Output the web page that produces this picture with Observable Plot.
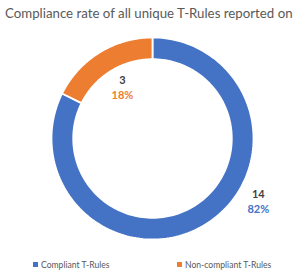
<!DOCTYPE html>
<html>
<head>
<meta charset="utf-8">
<script src="https://cdn.jsdelivr.net/npm/d3@7"></script>
<script src="https://cdn.jsdelivr.net/npm/@observablehq/plot@0.6"></script>
<style>
  html, body { margin: 0; padding: 0; background: #fff; }
  #wrap { width: 303px; height: 278px; position: relative; overflow: hidden; font-family: Lato, "Open Sans", sans-serif; }
  #title { height: 26px; line-height: 26px; font-size: 13px; color: #595959; padding-left: 5px; white-space: nowrap; }
  #title span { display: inline-block; }
  #legend { position: relative; height: 22px; font-size: 8.6px; color: #595959; }
  .item { position: absolute; top: 0; line-height: 18px; white-space: nowrap; }
  .sw { display: inline-block; width: 5px; height: 5px; margin-right: 3px; vertical-align: 1px; }
</style>
</head>
<body>
<div id="wrap">
  <div id="title"><span id="titletext"></span></div>
  <div id="plot"></div>
  <div id="legend"></div>
</div>
<script>
const title = "Compliance rate of all unique T-Rules reported on";
const categories = ["Compliant T-Rules", "Non-compliant T-Rules"];
const counts = [14, 3];
const percentLabels = ["82%", "18%"];
const colors = ["#4472C4", "#ED7D31"];

// layout
const W = 303, H = 230, R = 101, CX = 152, CY = 112, INNER = 0.785;
const legendLeft = [33, 177];
const labelRadius = [1.2, 0.585];
const labelDx = [42, 1];
const labelDy = [-40, 0];
const titleWidth = 288;

const tt = document.getElementById("titletext");
tt.textContent = title;
const w0 = tt.getBoundingClientRect().width;
if (w0 > 0) document.getElementById("title").style.fontSize = (13 * titleWidth / w0).toFixed(2) + "px";

const arcs = d3.pie().sort(null).value(d => d)(counts);
const ring = [];
arcs.forEach((a, i) => {
  const n = 160;
  for (let j = 0; j <= n; j++) {
    const t = a.startAngle + (a.endAngle - a.startAngle) * j / n;
    ring.push({cat: categories[i], x: Math.sin(t), y: Math.cos(t)});
  }
  for (let j = n; j >= 0; j--) {
    const t = a.startAngle + (a.endAngle - a.startAngle) * j / n;
    ring.push({cat: categories[i], x: INNER * Math.sin(t), y: INNER * Math.cos(t)});
  }
});

const labels = arcs.map((a, i) => {
  const m = (a.startAngle + a.endAngle) / 2;
  return {i, count: String(counts[i]), pct: percentLabels[i], color: colors[i],
          x: labelRadius[i] * Math.sin(m), y: labelRadius[i] * Math.cos(m)};
});

const plot = Plot.plot({
  width: W, height: H,
  margin: 0,
  x: {domain: [-CX / R, (W - CX) / R], axis: null},
  y: {domain: [-(H - CY) / R, CY / R], axis: null},
  color: {domain: categories, range: colors},
  style: {background: "transparent", overflow: "visible"},
  marks: [
    Plot.line(ring, {x: "x", y: "y", z: "cat", fill: "cat", stroke: "white", strokeWidth: 1.8, curve: "linear-closed"}),
    ...labels.map(l => Plot.text([l], {x: "x", y: "y", text: "count", fill: "#404040", fontWeight: "bold", fontSize: 11, fontFamily: "Lato, sans-serif", dx: labelDx[l.i], dy: labelDy[l.i] - 7.5})),
    ...labels.map(l => Plot.text([l], {x: "x", y: "y", text: "pct", fill: l.color, fontWeight: "bold", fontSize: 11, fontFamily: "Lato, sans-serif", dx: labelDx[l.i], dy: labelDy[l.i] + 7.5}))
  ]
});
document.getElementById("plot").appendChild(plot);

const legend = document.getElementById("legend");
categories.forEach((c, i) => {
  const it = document.createElement("div");
  it.className = "item";
  it.style.left = legendLeft[i] + "px";
  const sw = document.createElement("span");
  sw.className = "sw";
  sw.style.background = colors[i];
  it.appendChild(sw);
  it.appendChild(document.createTextNode(c));
  legend.appendChild(it);
});
</script>
</body>
</html>
